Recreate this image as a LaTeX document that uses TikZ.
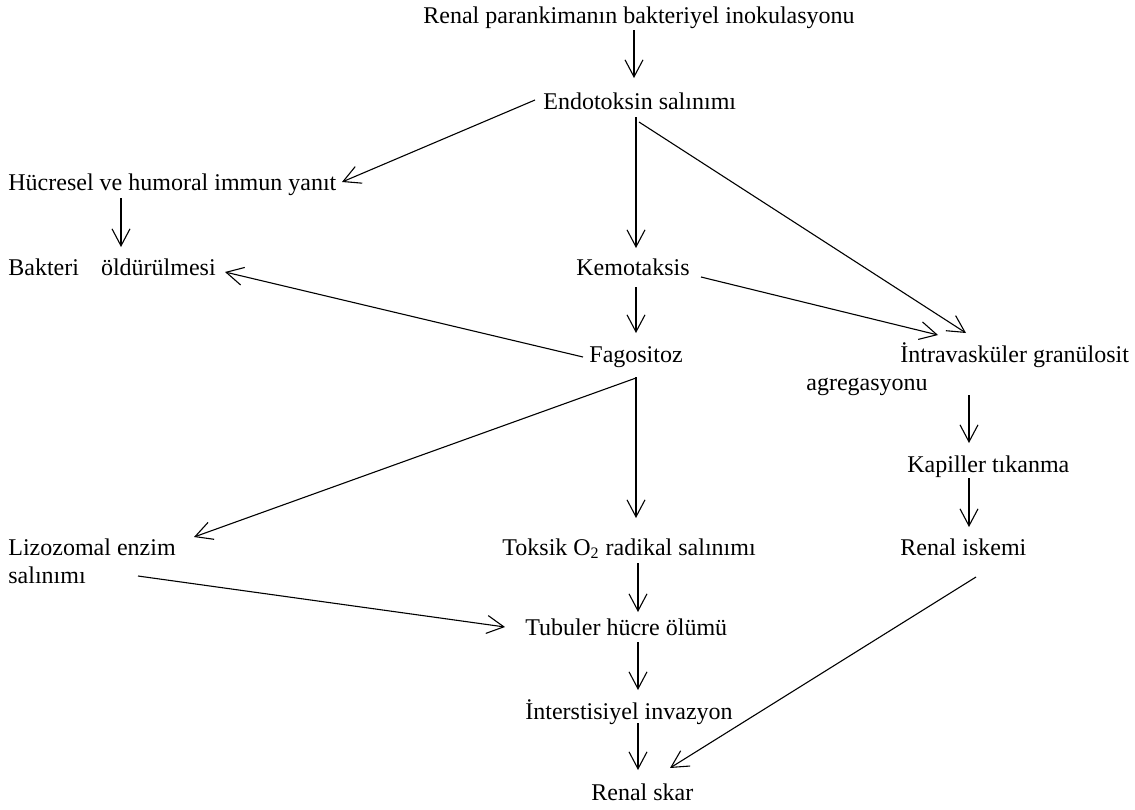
\documentclass[tikz,border=0pt]{standalone}
\usepackage{fontspec}
\setmainfont{Liberation Serif}
\usetikzlibrary{arrows.meta,calc}
\begin{document}
\begin{tikzpicture}[x=0.5pt,y=-0.5pt,
  lbl/.style={inner sep=0pt,anchor=base west,font=\fontsize{12pt}{14pt}\selectfont},
  arr/.style={line width=0.55pt,-{Straight Barb[length=8.5pt,width=9pt,line width=0.55pt]}}]
\useasboundingbox (0,0) rectangle (1135,809);
% nodes
\node[lbl] (top)   at (423,23)  {Renal parankimanın bakteriyel inokulasyonu};
\node[lbl] (endo)  at (543,109) {Endotoksin salınımı};
\node[lbl] (huc)   at (8,190)   {Hücresel ve humoral immun yanıt};
\node[lbl] (bak)   at (8,275)   {Bakteri\hspace{11pt}öldürülmesi};
\node[lbl] (kemo)  at (576,275) {Kemotaksis};
\node[lbl] (fago)  at (589,362) {Fagositoz};
\node[lbl] (intra) at (900,362) {İntravasküler granülosit};
\node[lbl] (agreg) at (806,390) {agregasyonu};
\node[lbl] (kap)   at (907,472) {Kapiller tıkanma};
\node[lbl] (liz)   at (8,555)   {Lizozomal enzim};
\node[lbl] (liz2)  at (8,583)   {salınımı};
\node[lbl] (tok)   at (502,555) {Toksik O\textsubscript{2} radikal salınımı};
\node[lbl] (isk)   at (900,555) {Renal iskemi};
\node[lbl] (tub)   at (525,635) {Tubuler hücre ölümü};
\node[lbl] (int)   at (525,719) {İnterstisiyel invazyon};
\node[lbl] (skar)  at (591,800) {Renal skar};
% connectors
\draw[arr] ($(top.base west)+(211,7)$)  -- ($(endo.base west)+(91,-31)$);
\draw[arr] ($(endo.base west)+(-8,-9)$) -- ($(huc.base west)+(334,-8)$);
\draw[arr] ($(endo.base west)+(93,8)$)  -- ($(kemo.base west)+(60,-27)$);
\draw[arr] ($(endo.base west)+(96,13)$) -- ($(intra.base west)+(66,-29)$);
\draw[arr] ($(huc.base west)+(113,8)$)  -- ($(bak.base west)+(113,-28)$);
\draw[arr] ($(kemo.base west)+(125,2)$) -- ($(intra.base west)+(38,-27)$);
\draw[arr] ($(kemo.base west)+(60,12)$) -- ($(fago.base west)+(47,-29)$);
\draw[arr] ($(fago.base west)+(-6,-5)$) -- ($(bak.base west)+(217,-3)$);
\draw[arr] ($(fago.base west)+(47,15)$) -- ($(tok.base west)+(134,-37)$);
\draw[arr] ($(fago.base west)+(47,16)$) -- ($(liz.base west)+(186,-18)$);
\draw[arr] ($(agreg.base west)+(163,5)$) -- ($(kap.base west)+(62,-29)$);
\draw[arr] ($(kap.base west)+(62,6)$)   -- ($(isk.base west)+(69,-28)$);
\draw[arr] ($(liz2.base west)+(130,-7)$) -- ($(tub.base west)+(-20,-8)$);
\draw[arr] ($(tok.base west)+(136,8)$)  -- ($(tub.base west)+(113,-23)$);
\draw[arr] ($(tub.base west)+(113,7)$)  -- ($(int.base west)+(113,-29)$);
\draw[arr] ($(int.base west)+(113,4)$)  -- ($(skar.base west)+(47,-30)$);
\draw[arr] ($(isk.base west)+(76,22)$)  -- ($(skar.base west)+(79,-32)$);
\end{tikzpicture}
\end{document}
